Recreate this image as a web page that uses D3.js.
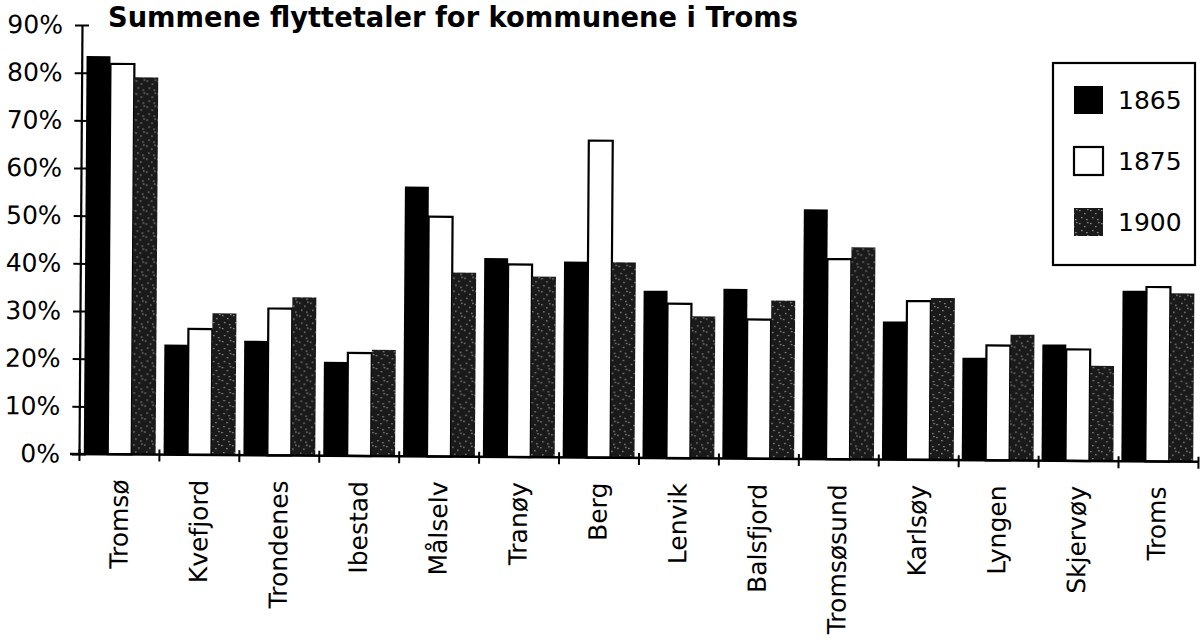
<!DOCTYPE html>
<html>
<head>
<meta charset="utf-8">
<script src="https://cdn.jsdelivr.net/npm/d3@7"></script>
<style>
  body { margin: 0; background: #fff; }
  svg { display: block; }
  text { font-family: "DejaVu Sans", sans-serif; fill: #000; }
</style>
</head>
<body>
<div id="chart"></div>
<script>
var title = "Summene flyttetaler for kommunene i Troms";
var categories = ["Tromsø", "Kvefjord", "Trondenes", "Ibestad", "Målselv", "Tranøy", "Berg",
  "Lenvik", "Balsfjord", "Tromsøsund", "Karlsøy", "Lyngen", "Skjervøy", "Troms"];
var years = ["1865", "1875", "1900"];
var v1865 = [83.5, 23.1, 24.0, 19.7, 56.6, 41.7, 41.1, 35.1, 35.6, 52.4, 29.0, 21.5, 24.4, 35.8];
var v1875 = [81.9, 26.4, 30.8, 21.6, 50.3, 40.4, 66.5, 32.4, 29.2, 42.0, 33.3, 24.1, 23.4, 36.6];
var v1900 = [79.1, 29.7, 33.2, 22.3, 38.6, 37.9, 41.0, 29.8, 33.2, 44.5, 34.0, 26.4, 20.0, 35.3];
var yTicks = [0, 10, 20, 30, 40, 50, 60, 70, 80, 90];

var series = { "1865": v1865, "1875": v1875, "1900": v1900 };

var W = 1204, H = 640;
var margin = { top: 25, right: 6, bottom: 186, left: 79 };

var svg = d3.select("#chart").append("svg")
  .attr("width", W)
  .attr("height", H);

// speckled fill for the 1900 bars (scanned raster look)
var pat = svg.append("defs").append("pattern")
  .attr("id", "speckle")
  .attr("patternUnits", "userSpaceOnUse")
  .attr("width", 11)
  .attr("height", 13);
pat.append("rect").attr("width", 11).attr("height", 13).attr("fill", "#1a1a1a");
[[1, 2], [6, 5], [3, 9], [8, 11], [9, 1]].forEach(function(p) {
  pat.append("rect").attr("x", p[0]).attr("y", p[1])
    .attr("width", 1.6).attr("height", 1.2).attr("fill", "#8a8a8a");
});

// title sits right at the top edge of the page
svg.append("text")
  .attr("x", 108)
  .attr("y", 27)
  .attr("textLength", 690)
  .attr("lengthAdjust", "spacingAndGlyphs")
  .style("font-size", "28px")
  .style("font-weight", "bold")
  .text(title);

var x0 = d3.scaleBand()
  .domain(categories)
  .range([margin.left, W - margin.right])
  .paddingInner(0.1)
  .paddingOuter(0.06);

var x1 = d3.scaleBand()
  .domain(years)
  .range([0, x0.bandwidth()]);

var xb = d3.scaleLinear()
  .domain([0, categories.length])
  .range([margin.left, W - margin.right]);

var y = d3.scaleLinear()
  .domain([0, 90])
  .range([H - margin.bottom, margin.top]);

var fills = { "1865": "#000", "1875": "#fff", "1900": "url(#speckle)" };

// the scan is tilted a little
var g = svg.append("g")
  .attr("transform", "rotate(0.4," + margin.left + "," + y(0) + ")");

years.forEach(function(yr) {
  g.append("g").selectAll("rect")
    .data(series[yr])
    .enter().append("rect")
    .attr("x", function(d, i) { return x0(categories[i]) + x1(yr); })
    .attr("y", function(d) { return y(d); })
    .attr("width", x1.bandwidth())
    .attr("height", function(d) { return y(0) - y(d); })
    .attr("fill", fills[yr])
    .attr("stroke", yr == "1875" ? "#000" : "none")
    .attr("stroke-width", 2.2);
});

var yAxis = g.append("g")
  .attr("transform", "translate(" + margin.left + ",0)")
  .call(d3.axisLeft(y).tickValues(yTicks).tickFormat(function(d) { return d + "%"; })
    .tickSize(7).tickSizeOuter(0).tickPadding(12));
yAxis.selectAll(".tick line").attr("x1", 7).attr("stroke-width", 2);
yAxis.select(".domain").attr("stroke-width", 2.2);
yAxis.selectAll("text").style("font-size", "25px").attr("font-family", null);

var xAxis = g.append("g")
  .attr("transform", "translate(0," + y(0) + ")")
  .call(d3.axisBottom(xb).tickValues(d3.range(categories.length + 1)).tickFormat("").tickSize(7));
xAxis.select(".domain").remove();
xAxis.selectAll(".tick line").attr("y1", -5).attr("stroke-width", 2);
xAxis.append("line")
  .attr("x1", margin.left - 9).attr("x2", W - margin.right)
  .attr("stroke", "#000").attr("stroke-width", 2.4);

g.append("g").selectAll("text")
  .data(categories)
  .enter().append("text")
  .attr("transform", function(d) {
    return "translate(" + (x0(d) + x0.bandwidth() / 2) + "," + (y(0) + 25) + ") rotate(-90)";
  })
  .attr("text-anchor", "end")
  .attr("dominant-baseline", "central")
  .style("font-size", "25px")
  .text(function(d) { return d; });

// legend
var legend = svg.append("g");
legend.append("rect")
  .attr("x", 1053).attr("y", 63)
  .attr("width", 142).attr("height", 202)
  .attr("fill", "#fff").attr("stroke", "#000").attr("stroke-width", 2.2);
years.forEach(function(yr, i) {
  var cy = 100 + i * 61;
  legend.append("rect")
    .attr("x", 1074).attr("y", cy - 14)
    .attr("width", 29).attr("height", 28)
    .attr("fill", fills[yr])
    .attr("stroke", yr == "1875" ? "#000" : "none")
    .attr("stroke-width", 2.2);
  legend.append("text")
    .attr("x", 1118).attr("y", cy)
    .attr("dominant-baseline", "central")
    .style("font-size", "25px")
    .text(yr);
});
</script>
</body>
</html>
